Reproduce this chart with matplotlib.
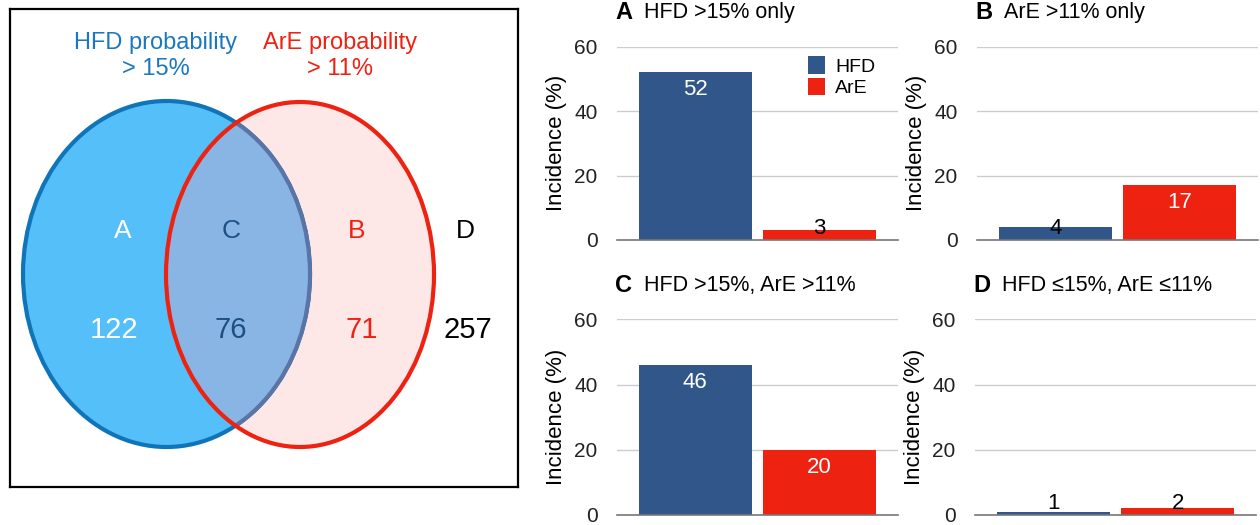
import matplotlib.pyplot as plt
from matplotlib.patches import Ellipse

plt.rcParams['font.family'] = ['Liberation Sans', 'DejaVu Sans']

# --- data ---
region_letters = ['A', 'C', 'B', 'D']
region_counts = [122, 76, 71, 257]

panel_letters = ['A', 'B', 'C', 'D']
panel_titles = ['HFD >15% only', 'ArE >11% only',
                'HFD >15%, ArE >11%', 'HFD \u226415%, ArE \u226411%']
series_names = ['HFD', 'ArE']
hfd_incidence = [52, 4, 46, 1]
are_incidence = [3, 17, 20, 2]
y_ticks = [0, 20, 40, 60]

W, H = 1260, 525
fig = plt.figure(figsize=(W / 100, H / 100), dpi=100)


def px_axes(x0, y0, x1, y1):
    # axes from pixel box (top-left origin)
    return fig.add_axes([x0 / W, 1 - y1 / H, (x1 - x0) / W, (y1 - y0) / H])


# --- Venn diagram (data units = pixels) ---
av = px_axes(10, 9, 518, 487)
av.set_xlim(10, 518)
av.set_ylim(487, 9)
av.set_xticks([])
av.set_yticks([])
for s in av.spines.values():
    s.set_linewidth(1.6)
    s.set_color('black')

blue_c, blue_w, blue_h = (166.5, 274), 287, 346
red_c, red_w, red_h = (300, 274.5), 268, 345

av.add_patch(Ellipse(red_c, red_w, red_h, facecolor='#fde7e7', edgecolor='none'))
av.add_patch(Ellipse(blue_c, blue_w, blue_h, facecolor='#55bffa',
                     edgecolor='#0f74b8', lw=3))
clip = Ellipse(red_c, red_w, red_h, transform=av.transData)
over = Ellipse(blue_c, blue_w, blue_h, facecolor='#89b5e4', edgecolor='#5a74a6', lw=3)
av.add_patch(over)
over.set_clip_path(clip)
av.add_patch(Ellipse(red_c, red_w, red_h, facecolor='none', edgecolor='#ee2211', lw=3))

av.text(156, 43, 'HFD probability', color='#1a78c2', fontsize=17, ha='center', va='center')
av.text(156, 69, '> 15%', color='#1a78c2', fontsize=17, ha='center', va='center')
av.text(340, 43, 'ArE probability', color='#ee2211', fontsize=17, ha='center', va='center')
av.text(340, 69, '> 11%', color='#ee2211', fontsize=17, ha='center', va='center')

letter_x = [123, 231, 357, 465]
count_x = [114, 231, 362, 468]
region_colors = ['white', '#1c4f82', '#ee2211', 'black']
for lab, n, lx, nx, c in zip(region_letters, region_counts, letter_x, count_x, region_colors):
    av.text(lx, 231, lab, color=c, fontsize=19, ha='center', va='center')
    av.text(nx, 330, str(n), color=c, fontsize=21, ha='center', va='center')

# --- bar panels ---
bar_colors = ['#31568a', '#ee2211']
boxes = [(617, 46.7, 898, 240), (977, 46.7, 1258, 240),
         (617, 319.3, 898, 515), (975, 319.3, 1256, 515)]

for k in range(4):
    x0, y0, x1, y1 = boxes[k]
    ax = px_axes(x0, y0, x1, y1)
    vals = [hfd_incidence[k], are_incidence[k]]
    bars = ax.bar([0, 1], vals, width=0.91, color=bar_colors, zorder=2)
    ax.set_xlim(-0.63, 1.63)
    ax.set_ylim(0, 60)
    ax.set_yticks(y_ticks)
    ax.set_xticks([])
    ax.tick_params(axis='y', length=0, pad=14, labelsize=15, labelcolor='#222222')
    ax.grid(axis='y', color='#cccccc', lw=1, zorder=0)
    for s in ['left', 'right', 'top']:
        ax.spines[s].set_visible(False)
    ax.spines['bottom'].set_color('#777777')
    ax.spines['bottom'].set_linewidth(1.2)
    ax.spines['bottom'].set_zorder(3)
    ax.set_ylabel('Incidence (%)', fontsize=16, labelpad=5)

    for i, v in enumerate(vals):
        if v >= 10:
            ax.annotate(str(v), (i, v), xytext=(0, -5), textcoords='offset points',
                        ha='center', va='top', color='white', fontsize=16, zorder=4)
        else:
            ax.annotate(str(v), (i, 0), xytext=(0, 4), textcoords='offset points',
                        ha='center', va='baseline', color='black', fontsize=16, zorder=4)

    ty = y0 - 34
    fig.text((x0 - 2) / W, 1 - ty / H, panel_letters[k], fontsize=17,
             fontweight='bold', ha='left', va='center')
    fig.text((x0 + 27) / W, 1 - ty / H, panel_titles[k], fontsize=15.5,
             ha='left', va='center')

    if k == 0:
        ax.legend(bars, series_names, loc='upper left', bbox_to_anchor=(0.68, 0.95),
                  frameon=False, fontsize=14, handlelength=0.85, handleheight=1.0,
                  handletextpad=0.55, labelspacing=0.1, borderpad=0, borderaxespad=0)

fig.savefig('out.png', dpi=100)
